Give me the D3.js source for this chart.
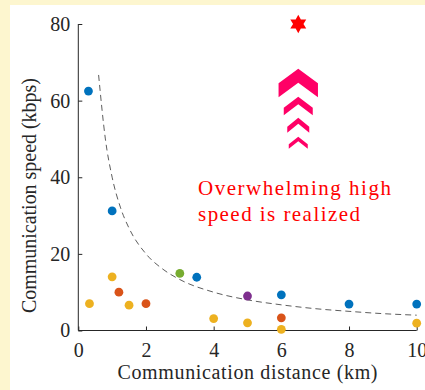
<!DOCTYPE html>
<html>
<head>
<meta charset="utf-8">
<script src="https://cdn.jsdelivr.net/npm/d3@7"></script>
<style>
  body { margin: 0; background: #fdf6cf; }
  svg { display: block; }
  text { font-family: "Liberation Serif", "Times New Roman", serif; font-weight: normal; fill: #262626; }
  .axis path, .axis line { stroke: #262626; stroke-width: 1; }
  .axis text { font-size: 20px; font-family: "Liberation Serif", "Times New Roman", serif; fill: #262626; }
</style>
</head>
<body>
<svg id="chart" width="425" height="390"></svg>
<script>
var width = 425;
var height = 390;

// Scatter data, one array pair per colour group (km, kbps)
var blueX = [0.3, 1.0, 3.5, 6, 8, 10];
var blueY = [62.5, 31.2, 13.9, 9.3, 6.9, 6.9];
var greenX = [3];
var greenY = [14.9];
var purpleX = [5];
var purpleY = [9.0];
var redX = [1.2, 2, 6];
var redY = [10, 7, 3.3];
var yellowX = [0.33, 1.0, 1.5, 4, 5, 6, 10];
var yellowY = [7, 14, 6.6, 3.1, 2.0, 0.3, 1.9];

// Dashed trend curve
var curveX = [0.6, 0.8, 1, 1.25, 1.5, 2, 2.5, 3, 4, 5, 6, 7, 8, 9, 10];
var curveY = [66.7, 50, 40, 32, 26.7, 20, 16, 13.3, 10, 8, 6.7, 5.7, 5, 4.4, 4];

// Highlight: star and chevron stack at 6.5 km
var starX = 6.5;
var starY = 80;
var chevronX = 6.5;
var chevronY = [68.3, 61, 55.5, 50.6];

var xTicks = [0, 2, 4, 6, 8, 10];
var yTicks = [0, 20, 40, 60, 80];

var groups = [
    {xs: blueX, ys: blueY, color: "#0072bd"},
    {xs: greenX, ys: greenY, color: "#77ac30"},
    {xs: purpleX, ys: purpleY, color: "#7e2f8e"},
    {xs: redX, ys: redY, color: "#d95319"},
    {xs: yellowX, ys: yellowY, color: "#edb120"}
];

// Plot area
var pLeft = 78.3, pRight = 416.7, pTop = 24, pBottom = 330.5;

var svg = d3.select("#chart");

svg.append("rect")
    .attr("x", 10).attr("y", 5)
    .attr("width", width - 10).attr("height", height - 5)
    .attr("fill", "#ffffff");

var x = d3.scaleLinear().domain([0, 10]).range([pLeft, pRight]);
var y = d3.scaleLinear().domain([0, 80]).range([pBottom, pTop]);

// Axes, ticks pointing inwards
svg.append("g")
    .attr("class", "axis")
    .attr("transform", "translate(0," + pBottom + ")")
    .call(d3.axisBottom(x).tickValues(xTicks).tickSize(-4).tickSizeOuter(0).tickPadding(12))
    .call(g => g.select(".domain").attr("d", "M" + pLeft + ",0H" + pRight));
svg.append("g")
    .attr("class", "axis")
    .attr("transform", "translate(" + pLeft + ",0)")
    .call(d3.axisLeft(y).tickValues(yTicks).tickSize(-4).tickSizeOuter(0).tickPadding(8))
    .call(g => g.select(".domain").attr("d", "M0," + pTop + "V" + pBottom));

// Axis labels
svg.append("text")
    .attr("x", 247.5)
    .attr("y", 379)
    .attr("text-anchor", "middle")
    .attr("font-size", 20)
    .attr("textLength", 260)
    .attr("lengthAdjust", "spacing")
    .text("Communication distance (km)");
svg.append("text")
    .attr("transform", "translate(36,195.5) rotate(-90)")
    .attr("text-anchor", "middle")
    .attr("font-size", 20)
    .attr("textLength", 235)
    .attr("lengthAdjust", "spacing")
    .text("Communication speed (kbps)");

// Dashed curve
var line = d3.line()
    .x((d, i) => x(curveX[i]))
    .y(d => y(d))
    .curve(d3.curveMonotoneX);
svg.append("path")
    .attr("d", line(curveY))
    .attr("fill", "none")
    .attr("stroke", "#333333")
    .attr("stroke-width", 0.8)
    .attr("stroke-dasharray", "6,4");

// Scatter points
groups.forEach(function(g) {
    svg.append("g").selectAll("circle")
        .data(g.xs)
        .enter()
        .append("circle")
        .attr("cx", d => x(d))
        .attr("cy", (d, i) => y(g.ys[i]))
        .attr("r", 4.4)
        .attr("fill", g.color);
});

// Six-pointed star
var starPts = d3.range(12).map(i => [i * Math.PI / 6, i % 2 ? 5.2 : 9.2]);
svg.append("path")
    .attr("d", d3.lineRadial().curve(d3.curveLinearClosed)(starPts))
    .attr("transform", "translate(" + x(starX) + "," + y(starY) + ")")
    .attr("fill", "#ff0000");

// Chevrons (half width, drop of the arms, thickness in px)
var chevHalf = [19.7, 14.5, 11, 9.5];
var chevDrop = [14.3, 11, 9, 7.5];
var chevThick = [14, 7.5, 6, 4.5];
function chevron(w, h, t) {
    return "M0,0L" + w + "," + h + "L" + w + "," + (h + t) +
        "L0," + t + "L" + (-w) + "," + (h + t) + "L" + (-w) + "," + h + "Z";
}
svg.append("g").selectAll("path")
    .data(chevronY)
    .enter()
    .append("path")
    .attr("d", (d, i) => chevron(chevHalf[i], chevDrop[i], chevThick[i]))
    .attr("transform", d => "translate(" + x(chevronX) + "," + y(d) + ")")
    .attr("fill", "#ff0066");

// Annotation
var note = svg.append("text")
    .attr("x", 198)
    .attr("y", 195)
    .attr("font-size", 21)
    .style("fill", "#ff0000");
note.append("tspan").attr("x", 198).attr("textLength", 193).attr("lengthAdjust", "spacing").text("Overwhelming high");
note.append("tspan").attr("x", 198).attr("dy", 25.5).attr("textLength", 162).attr("lengthAdjust", "spacing").text("speed is realized");
</script>
</body>
</html>
